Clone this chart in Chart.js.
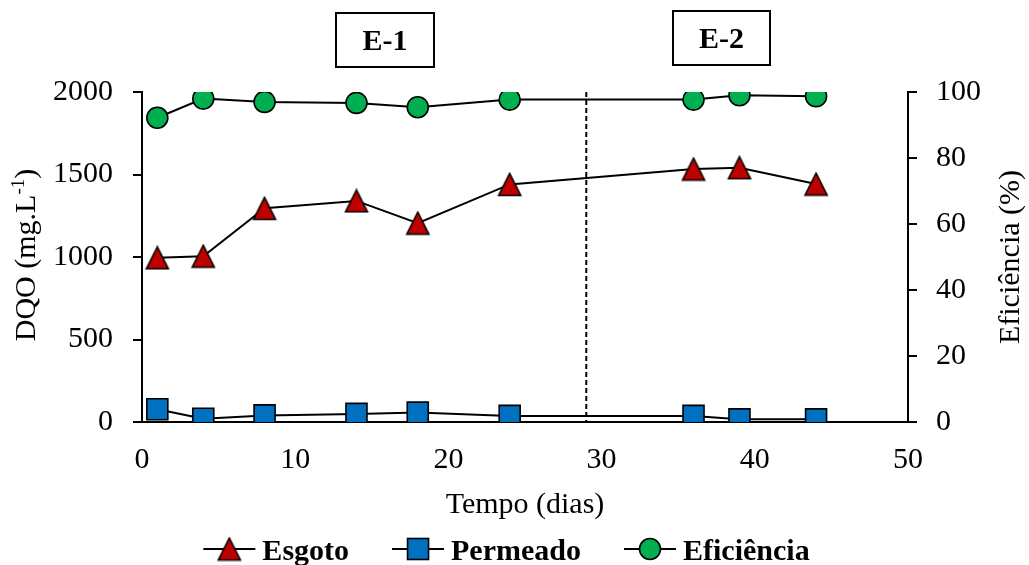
<!DOCTYPE html>
<html><head><meta charset="utf-8">
<script src="https://cdn.jsdelivr.net/npm/chart.js@4/dist/chart.umd.min.js"></script>
<style>html,body{margin:0;padding:0;background:#fff}#wrap{width:1029px;height:565px}</style>
</head><body><div id="wrap"><canvas id="c" width="1029" height="565"></canvas></div>
<script>
const days = [1, 4, 8, 14, 18, 24, 36, 39, 44];
const esgoto = [995, 1005, 1295, 1340, 1205, 1440, 1533, 1541, 1442];
const permeado = [77, 20, 40, 49, 57, 37, 37, 16, 16];
const eficiencia = [92.2, 98.0, 97.0, 96.7, 95.4, 97.7, 97.7, 99.0, 98.7];
const xTicks = [0, 10, 20, 30, 40, 50];
const leftTicks = [0, 500, 1000, 1500, 2000];
const rightTicks = [0, 20, 40, 60, 80, 100];
const stageDivider = 29;
const stageLabels = ['E-1', 'E-2'];
const seriesNames = ['Esgoto', 'Permeado', 'Eficiência'];

const FONT = '"Liberation Serif", "Times New Roman", serif';
const RED = '#C00000', BLUE = '#0070C0', GREEN = '#00B050';

function triImg() {
  const c = document.createElement('canvas');
  c.width = 26; c.height = 25;
  const g = c.getContext('2d');
  g.beginPath(); g.moveTo(13, 1.5); g.lineTo(24, 23.5); g.lineTo(2, 23.5); g.closePath();
  g.fillStyle = RED; g.fill(); g.lineWidth = 1.6; g.strokeStyle = '#000'; g.lineJoin = 'miter'; g.stroke();
  return c;
}
const TRI = triImg();

function pts(xs, ys) { return xs.map((d, i) => ({x: d, y: ys[i]})); }

function drawMarker(ctx, kind, x, y) {
  ctx.save(); ctx.lineWidth = 1.6; ctx.strokeStyle = '#000';
  if (kind === 0) { ctx.drawImage(TRI, x - 13, y - 12.5); }
  else if (kind === 1) { ctx.fillStyle = BLUE; ctx.fillRect(x - 10.5, y - 10.5, 21, 21); ctx.strokeRect(x - 10.5, y - 10.5, 21, 21); }
  else { ctx.fillStyle = GREEN; ctx.beginPath(); ctx.arc(x, y, 10.5, 0, Math.PI * 2); ctx.fill(); ctx.stroke(); }
  ctx.restore();
}

const annot = {
  id: 'annot',
  beforeDatasetsDraw(chart) {
    const {ctx, scales: {x, y}} = chart;
    const px = x.getPixelForValue(stageDivider);
    ctx.save(); ctx.strokeStyle = '#000'; ctx.lineWidth = 2; ctx.setLineDash([5, 3]);
    ctx.beginPath(); ctx.moveTo(px, y.getPixelForValue(leftTicks[leftTicks.length - 1])); ctx.lineTo(px, y.getPixelForValue(0)); ctx.stroke();
    ctx.restore();
  },
  afterDraw(chart) {
    const {ctx, chartArea: ca} = chart;
    ctx.save();
    const boxes = [[336, 13, 98, 54], [673, 11, 97, 54]];
    ctx.lineWidth = 2; ctx.strokeStyle = '#000'; ctx.fillStyle = '#000';
    ctx.font = 'bold 30px ' + FONT; ctx.textAlign = 'center'; ctx.textBaseline = 'alphabetic';
    boxes.forEach((b, i) => {
      ctx.strokeRect(b[0], b[1], b[2], b[3]);
      ctx.fillText(stageLabels[i], b[0] + b[2] / 2, b[1] + b[3] / 2 + 10);
    });
    ctx.font = '30px ' + FONT;
    ctx.fillText('Tempo (dias)', (ca.left + ca.right) / 2, 513);
    ctx.save();
    ctx.translate(35, (ca.top + ca.bottom) / 2 - 2); ctx.rotate(-Math.PI / 2);
    const a = 'DQO (mg.L', s = '-1', b = ')';
    ctx.font = '30px ' + FONT; const wa = ctx.measureText(a).width, wb = ctx.measureText(b).width;
    ctx.font = '19px ' + FONT; const ws = ctx.measureText(s).width;
    let sx = -(wa + ws + wb) / 2;
    ctx.textAlign = 'left';
    ctx.font = '30px ' + FONT; ctx.fillText(a, sx, 0); sx += wa;
    ctx.font = '19px ' + FONT; ctx.fillText(s, sx, -11); sx += ws;
    ctx.font = '30px ' + FONT; ctx.fillText(b, sx, 0);
    ctx.restore();
    ctx.save();
    ctx.translate(1019, (ca.top + ca.bottom) / 2); ctx.rotate(-Math.PI / 2);
    ctx.font = '30px ' + FONT; ctx.textAlign = 'center';
    ctx.fillText('Eficiência (%)', 0, 0);
    ctx.restore();
    ctx.font = 'bold 30px ' + FONT; ctx.textAlign = 'left';
    const lineLen = 52, gapT = 7, gapI = 43, ly = 549;
    const widths = seriesNames.map(n => ctx.measureText(n).width);
    const total = widths.reduce((p, w) => p + lineLen + gapT + w, 0) + gapI * (seriesNames.length - 1);
    let lx = 506.5 - total / 2;
    seriesNames.forEach((n, i) => {
      ctx.strokeStyle = '#000'; ctx.lineWidth = 2;
      ctx.beginPath(); ctx.moveTo(lx, ly); ctx.lineTo(lx + lineLen, ly); ctx.stroke();
      drawMarker(ctx, i, lx + lineLen / 2, ly);
      ctx.fillStyle = '#000';
      ctx.fillText(n, lx + lineLen + gapT, ly + 11);
      lx += lineLen + gapT + widths[i] + gapI;
    });
    ctx.restore();
  }
};

const common = {borderColor: '#000', borderWidth: 2, tension: 0, pointBorderColor: '#000', pointBorderWidth: 1.6, fill: false};
const plainNum = v => String(v);

new Chart(document.getElementById('c'), {
  type: 'line',
  data: {
    datasets: [
      Object.assign({}, common, {label: seriesNames[2], data: pts(days, eficiencia), yAxisID: 'y1', pointStyle: 'circle', pointRadius: 10.5, pointBackgroundColor: GREEN}),
      Object.assign({}, common, {label: seriesNames[0], data: pts(days, esgoto), yAxisID: 'y', pointStyle: TRI, pointRadius: 12, pointBackgroundColor: RED}),
      Object.assign({}, common, {label: seriesNames[1], data: pts(days, permeado), yAxisID: 'y', pointStyle: 'rect', pointRadius: 14.85, pointBackgroundColor: BLUE})
    ]
  },
  options: {
    responsive: false, devicePixelRatio: 1, animation: false, events: [],
    layout: {padding: {top: 92, left: 0, right: 0, bottom: 0}},
    plugins: {legend: {display: false}, tooltip: {enabled: false}},
    scales: {
      x: {
        type: 'linear', position: 'bottom', min: xTicks[0], max: xTicks[xTicks.length - 1],
        afterBuildTicks: s => { s.ticks = xTicks.map(v => ({value: v})); },
        afterFit: s => { s.height = 143; },
        grid: {display: false, drawTicks: false},
        border: {display: true, color: '#000', width: 2},
        ticks: {color: '#000', font: {family: FONT, size: 30}, padding: 20, maxRotation: 0, callback: plainNum}
      },
      y: {
        type: 'linear', position: 'left', min: leftTicks[0], max: leftTicks[leftTicks.length - 1],
        afterBuildTicks: s => { s.ticks = leftTicks.map(v => ({value: v})); },
        afterFit: s => { s.width = 142; },
        grid: {display: true, drawOnChartArea: false, drawTicks: true, tickLength: 9, color: '#000', lineWidth: 2},
        border: {display: true, color: '#000', width: 2},
        ticks: {color: '#000', font: {family: FONT, size: 30}, padding: 20, callback: plainNum}
      },
      y1: {
        type: 'linear', position: 'right', min: rightTicks[0], max: rightTicks[rightTicks.length - 1],
        afterBuildTicks: s => { s.ticks = rightTicks.map(v => ({value: v})); },
        afterFit: s => { s.width = 121; },
        grid: {display: true, drawOnChartArea: false, drawTicks: true, tickLength: 9, color: '#000', lineWidth: 2},
        border: {display: true, color: '#000', width: 2},
        ticks: {color: '#000', font: {family: FONT, size: 30}, padding: 19, callback: plainNum}
      }
    }
  },
  plugins: [annot]
});
</script></body></html>
